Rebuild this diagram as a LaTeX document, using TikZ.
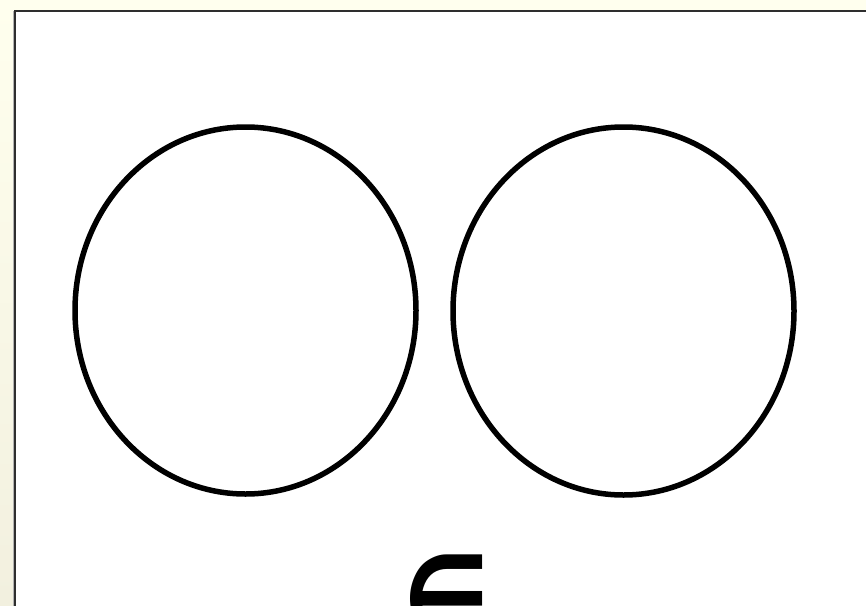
\documentclass[tikz,border=0pt]{standalone}
\usepackage{fontspec}
\usetikzlibrary{shapes.geometric}
\newfontfamily\symfont{DejaVu Sans}
\definecolor{bgyellow}{HTML}{FFFFEE}
\definecolor{bgyellowb}{HTML}{F2F0DF}
\definecolor{frame}{HTML}{2E2E2E}
\begin{document}
\begin{tikzpicture}[x=1pt,y=-1pt,
  ring/.style={draw=black,line width=5.5pt,ellipse,inner sep=0pt},
  sym/.style={inner sep=0pt,font=\symfont\bfseries\fontsize{120}{120}\selectfont}]
\useasboundingbox (0,0) rectangle (866,605);
\clip (0,0) rectangle (866,605);
\shade[top color=bgyellow,bottom color=bgyellowb] (0,0) rectangle (866,605);
\fill[white] (15,11) rectangle (870,610);
\draw[gray!60,line width=1pt] (13.2,11) -- (13.2,610);
\draw[frame,line width=2.2pt] (15,610) -- (15,11) -- (870,11);
\node[ring,minimum width=341pt,minimum height=367pt] (left) at (245.5,310.5) {};
\node[ring,minimum width=341pt,minimum height=368pt] (right) at (623.5,311) {};
\node[sym,anchor=north,xscale=0.8] (elem) at (447,555) {∈};
\end{tikzpicture}
\end{document}
